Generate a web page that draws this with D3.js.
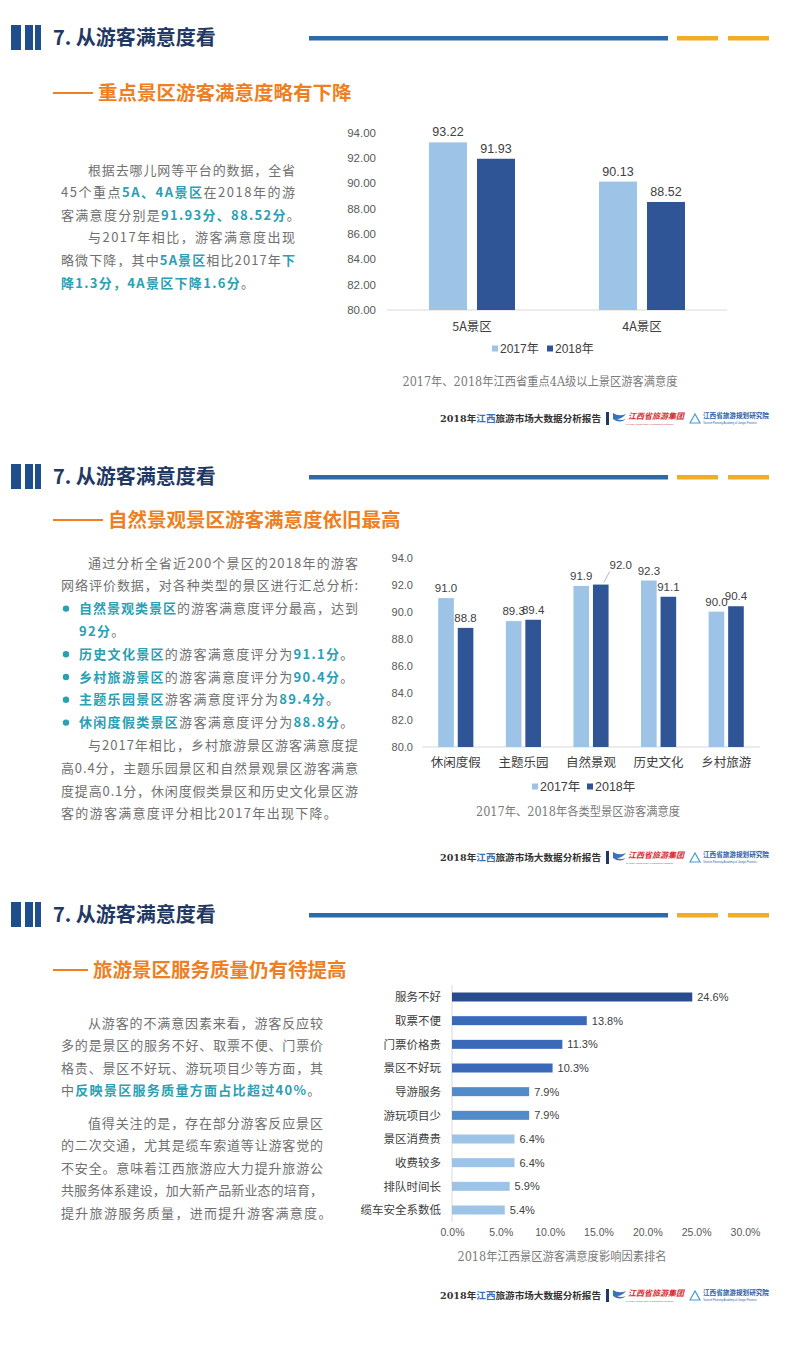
<!DOCTYPE html>
<html>
<head>
<meta charset="utf-8">
<script src="https://cdn.jsdelivr.net/npm/d3@7"></script>
<style>
  body { margin: 0; background: #fff; }
  svg { display: block; }
  text { font-family: "Liberation Sans", "Noto Sans CJK SC", sans-serif; }
</style>
</head>
<body>
<svg id="page" width="800" height="1354"></svg>
<script>
// ---- chart 1: 5A / 4A
var levels = ['5A景区', '4A景区'];
var years = ['2017年', '2018年'];
var level2017 = [93.22, 90.13];
var level2018 = [91.93, 88.52];
var levelTicks = [80, 82, 84, 86, 88, 90, 92, 94];

// ---- chart 2: scenic types
var types = ['休闲度假', '主题乐园', '自然景观', '历史文化', '乡村旅游'];
var type2017 = [91.0, 89.3, 91.9, 92.3, 90.0];
var type2018 = [88.8, 89.4, 92.0, 91.1, 90.4];
var typeTicks = [80, 82, 84, 86, 88, 90, 92, 94];

// ---- chart 3: dissatisfaction factors
var factors = ['服务不好', '取票不便', '门票价格贵', '景区不好玩', '导游服务', '游玩项目少', '景区消费贵', '收费较多', '排队时间长', '缆车安全系数低'];
var factorShare = [24.6, 13.8, 11.3, 10.3, 7.9, 7.9, 6.4, 6.4, 5.9, 5.4];
var shareTicks = [0, 5, 10, 15, 20, 25, 30];

var svg = d3.select('#page');
var light = '#9dc3e6', dark = '#2f5597';
var teal = '#2b9fb4', gray = '#707070';
var cjk = '"Noto Sans CJK SC", sans-serif';
var serif = '"DejaVu Serif", "Noto Sans CJK SC", serif';

function header(cy, subtitle, subY, subX) {
  var g = svg.append('g');
  [[11, 10], [25, 8], [35, 6]].forEach(function(b) {
    g.append('rect').attr('x', b[0]).attr('y', cy - 13).attr('width', b[1]).attr('height', 25).attr('fill', '#1f4e8c');
  });
  g.append('text').attr('x', 53).attr('y', cy + 7)
    .style('font-family', cjk).style('font-size', '20px').style('font-weight', 'bold')
    .attr('fill', '#1f3864').text('7. 从游客满意度看');
  g.append('rect').attr('x', 309).attr('y', cy - 2).attr('width', 359).attr('height', 4.5).attr('fill', '#2e6aa8');
  g.append('rect').attr('x', 677).attr('y', cy - 2).attr('width', 41).attr('height', 4.5).attr('fill', '#f2ad27');
  g.append('rect').attr('x', 728).attr('y', cy - 2).attr('width', 41).attr('height', 4.5).attr('fill', '#f2ad27');
  g.append('rect').attr('x', 53).attr('y', subY - 1).attr('width', subX - 58).attr('height', 2).attr('fill', '#ee7f22');
  g.append('text').attr('x', subX).attr('y', subY + 7)
    .style('font-family', cjk).style('font-size', '19.5px').style('font-weight', 'bold')
    .attr('fill', '#ee7f22').text(subtitle);
}

function footer(cy) {
  var g = svg.append('g');
  var t = g.append('text').attr('x', 440).attr('y', cy + 4)
    .style('font-family', serif).style('font-size', '9.6px').style('font-weight', 'bold');
  t.append('tspan').attr('fill', '#333').text('2018年');
  t.append('tspan').attr('fill', '#3a6fb5').text('江西');
  t.append('tspan').attr('fill', '#333').text('旅游市场大数据分析报告');
  g.append('rect').attr('x', 606).attr('y', cy - 6).attr('width', 3).attr('height', 13).attr('fill', '#1f3864');
  g.append('path').attr('d', 'M613,' + (cy - 5) + ' q6,4 13,1 q-4,5 -9,5 q4,2 9,0 q-6,5 -13,0 z').attr('fill', '#3a73b8');
  g.append('text').attr('x', 628).attr('y', cy + 1)
    .style('font-family', cjk).style('font-size', '8px').style('font-weight', 'bold').style('font-style', 'italic')
    .attr('fill', '#d62a2f').text('江西省旅游集团');
  g.append('text').attr('x', 626).attr('y', cy + 6.5).style('font-size', '2.5px').attr('fill', '#d62a2f')
    .text('JIANGXI PROVINCIAL TOURISM GROUP');
  g.append('path').attr('d', 'M690,' + (cy + 5) + ' l5,-9 l5,9 z').attr('fill', 'none').attr('stroke', '#4a9ad0').attr('stroke-width', 1.2);
  g.append('text').attr('x', 703).attr('y', cy)
    .style('font-family', cjk).style('font-size', '6.6px').style('font-weight', 'bold')
    .attr('fill', '#2d5ea8').text('江西省旅游规划研究院');
  g.append('text').attr('x', 703).attr('y', cy + 5.5).style('font-size', '2.6px').attr('fill', '#2d5ea8')
    .text('Tourism Planning Academy of Jiangxi Province');
}

function para(lines, x0, indentX, right, y0, step) {
  var g = svg.append('g');
  lines.forEach(function(ln, i) {
    var x = ln.indent ? indentX : (ln.bx || x0);
    var t = g.append('text').attr('x', x).attr('y', y0 + i * step)
      .style('font-family', cjk).style('font-size', '13px');
    ln.t.split(/(\{[^}]*\})/).filter(function(s) { return s; }).forEach(function(s) {
      var hi = s[0] === '{';
      t.append('tspan').attr('fill', hi ? teal : gray).style('font-weight', hi ? 'bold' : null)
        .text(hi ? s.slice(1, -1) : s);
    });
    if (ln.full) t.attr('textLength', right - x).attr('lengthAdjust', 'spacing');
    else t.style('letter-spacing', '1.3px');
    if (ln.bullet) g.append('circle').attr('cx', 66).attr('cy', y0 + i * step - 4.5).attr('r', 3.2).attr('fill', teal);
  });
}

function caption(text, cx, cy, len) {
  svg.append('text').attr('x', cx).attr('y', cy + 4).attr('text-anchor', 'middle')
    .style('font-family', serif).style('font-size', '12px').attr('fill', '#7a7a7a')
    .attr('textLength', len).attr('lengthAdjust', 'spacingAndGlyphs').text(text);
}

function legend(x, cy, fs) {
  var g = svg.append('g');
  years.forEach(function(yr, i) {
    var lx = x + i * 55;
    g.append('rect').attr('x', lx).attr('y', cy - 3.5).attr('width', 6).attr('height', 6).attr('fill', i ? dark : light);
    g.append('text').attr('x', lx + 8).attr('y', cy + 4).style('font-size', fs + 'px').attr('fill', '#404040').text(yr);
  });
}

function groupedBars(o) {
  var g = svg.append('g');
  var x0 = d3.scaleBand().domain(o.cats).range(o.xr).paddingInner(o.pad).paddingOuter(o.pad / 2);
  var x1 = d3.scaleBand().domain(years).range([0, x0.bandwidth()]).paddingInner(o.pad2);
  var y = d3.scaleLinear().domain([80, 94]).range(o.yr);
  var rows = o.cats.map(function(c, i) { return { cat: c, vals: [o.a[i], o.b[i]] }; });

  var ya = g.append('g').attr('transform', 'translate(' + o.tickX + ',0)')
    .call(d3.axisLeft(y).tickValues(o.ticks).tickFormat(d3.format(o.fmt)).tickSize(0).tickPadding(0));
  ya.select('.domain').remove();
  ya.attr('font-family', null).selectAll('text').attr('fill', '#595959').style('font-size', o.tickFs + 'px');

  g.append('line').attr('x1', o.xr[0]).attr('x2', o.xr[1]).attr('y1', y(80)).attr('y2', y(80))
    .attr('stroke', '#d9d9d9').attr('stroke-width', 1);

  var xa = g.append('g').attr('transform', 'translate(0,' + y(80) + ')')
    .call(d3.axisBottom(x0).tickSize(0).tickPadding(o.catPad));
  xa.select('.domain').remove();
  xa.attr('font-family', null).selectAll('text').attr('fill', '#404040')
    .style('font-family', cjk).style('font-size', o.catFs + 'px');

  var grp = g.selectAll('.grp').data(rows).enter().append('g').attr('class', 'grp')
    .attr('transform', function(d) { return 'translate(' + x0(d.cat) + ',0)'; });
  var bars = grp.selectAll('.bar').data(function(d) {
    return d.vals.map(function(v, i) { return { cat: d.cat, yr: years[i], v: v, i: i }; });
  }).enter();
  bars.append('rect').attr('class', 'bar')
    .attr('x', function(d) { return x1(d.yr); }).attr('width', x1.bandwidth())
    .attr('y', function(d) { return y(d.v); }).attr('height', function(d) { return y(80) - y(d.v); })
    .attr('fill', function(d) { return d.i ? dark : light; });
  bars.append('text')
    .attr('x', function(d) { return x1(d.yr) + x1.bandwidth() / 2 + (d.cat === o.leader && d.i ? 20 : 0); })
    .attr('y', function(d) { return y(d.v) - (d.cat === o.leader && d.i ? 16 : 6); })
    .attr('text-anchor', 'middle').style('font-size', o.valFs + 'px').attr('fill', '#404040')
    .text(function(d) { return d3.format(o.vfmt)(d.v); });
  // leader line for the crowded label
  bars.filter(function(d) { return d.cat === o.leader && d.i; }).append('line')
    .attr('x1', function(d) { return x1(d.yr) + x1.bandwidth() / 2 + 3; })
    .attr('x2', function(d) { return x1(d.yr) + x1.bandwidth() / 2 + 9; })
    .attr('y1', function(d) { return y(d.v) - 2; })
    .attr('y2', function(d) { return y(d.v) - 13; })
    .attr('stroke', '#a6a6a6').attr('stroke-width', 0.8);
}

// ================= panel 1
header(38, '重点景区游客满意度略有下降', 93, 98);
para([
  { t: '根据去哪儿网等平台的数据，全省', indent: true, full: true },
  { t: '45个重点{5A、4A景区}在2018年的游', full: true },
  { t: '客满意度分别是{91.93分、88.52分}。' },
  { t: '与2017年相比，游客满意度出现', indent: true, full: true },
  { t: '略微下降，其中{5A景区}相比2017年{下}', full: true },
  { t: '{降1.3分，4A景区下降1.6分}。' }
], 61, 88, 295, 174.5, 22.6);

groupedBars({
  cats: levels, a: level2017, b: level2018, ticks: levelTicks,
  xr: [387, 727], yr: [310, 132.5], pad: 0.494, pad2: 0.208,
  tickX: 376, fmt: '.2f', vfmt: '.2f', tickFs: 11.5, valFs: 12.5, catFs: 12.5, catPad: 12, leader: null
});
legend(492, 349, 12);
caption('2017年、2018年江西省重点4A级以上景区游客满意度', 540, 382, 275);
footer(418);

// ================= panel 2
header(477, '自然景观景区游客满意度依旧最高', 520, 108);
para([
  { t: '通过分析全省近200个景区的2018年的游客', indent: true, full: true },
  { t: '网络评价数据，对各种类型的景区进行汇总分析:', full: true },
  { t: '{自然景观类景区}的游客满意度评分最高，达到', bullet: true, bx: 79, full: true },
  { t: '{92分}。', bx: 79 },
  { t: '{历史文化景区}的游客满意度评分为{91.1分}。', bullet: true, bx: 79 },
  { t: '{乡村旅游景区}的游客满意度评分为{90.4分}。', bullet: true, bx: 79 },
  { t: '{主题乐园景区}游客满意度评分为{89.4分}。', bullet: true, bx: 79 },
  { t: '{休闲度假类景区}游客满意度评分为{88.8分}。', bullet: true, bx: 79 },
  { t: '与2017年相比，乡村旅游景区游客满意度提', indent: true, full: true },
  { t: '高0.4分，主题乐园景区和自然景观景区游客满意', full: true },
  { t: '度提高0.1分，休闲度假类景区和历史文化景区游', full: true },
  { t: '客的游客满意度评分相比2017年出现下降。' }
], 61, 88, 358, 567.5, 22.8);

groupedBars({
  cats: types, a: type2017, b: type2018, ticks: typeTicks,
  xr: [422, 760], yr: [747, 557.5], pad: 0.48, pad2: 0.2,
  tickX: 413, fmt: '.1f', vfmt: '.1f', tickFs: 11, valFs: 11.5, catFs: 12.5, catPad: 11, leader: '自然景观'
});
legend(532, 787, 12.5);
caption('2017年、2018年各类型景区游客满意度', 578, 812, 204);
footer(857);

// ================= panel 3
header(915, '旅游景区服务质量仍有待提高', 970, 93);
para([
  { t: '从游客的不满意因素来看，游客反应较', indent: true, full: true },
  { t: '多的是景区的服务不好、取票不便、门票价', full: true },
  { t: '格贵、景区不好玩、游玩项目少等方面，其', full: true },
  { t: '中{反映景区服务质量方面占比超过40%}。' }
], 61, 88, 323, 1027.5, 22.5);
para([
  { t: '值得关注的是，存在部分游客反应景区', indent: true, full: true },
  { t: '的二次交通，尤其是缆车索道等让游客觉的', full: true },
  { t: '不安全。意味着江西旅游应大力提升旅游公', full: true },
  { t: '共服务体系建设，加大新产品新业态的培育，', full: true },
  { t: '提升旅游服务质量，进而提升游客满意度。' }
], 61, 88, 323, 1127.5, 22.5);

(function() {
  var g = svg.append('g');
  var x = d3.scaleLinear().domain([0, 30]).range([452, 745]);
  var y = d3.scalePoint().domain(factors).range([997, 1210]);
  var tier = function(i) { return i === 0 ? '#2a4b8d' : i < 4 ? '#3a69b8' : i < 6 ? '#528bc9' : '#9dc3e6'; };
  var rows = factors.map(function(f, i) { return { f: f, v: factorShare[i], i: i }; });

  g.append('line').attr('x1', x(0)).attr('x2', x(0)).attr('y1', 985).attr('y2', 1222)
    .attr('stroke', '#d9d9d9').attr('stroke-width', 1);

  var xa = g.append('g').attr('transform', 'translate(0,1229)')
    .call(d3.axisBottom(x).tickValues(shareTicks).tickFormat(function(d) { return d3.format('.1f')(d) + '%'; }).tickSize(0).tickPadding(0));
  xa.select('.domain').remove();
  xa.attr('font-family', null).selectAll('text').attr('fill', '#595959').style('font-size', '10.5px');

  var ya = g.append('g').attr('transform', 'translate(441,0)')
    .call(d3.axisLeft(y).tickSize(0).tickPadding(0));
  ya.select('.domain').remove();
  ya.attr('font-family', null).selectAll('text').attr('fill', '#404040')
    .style('font-family', cjk).style('font-size', '11.5px');

  g.selectAll('.hbar').data(rows).enter().append('rect').attr('class', 'hbar')
    .attr('x', x(0)).attr('y', function(d) { return y(d.f) - 4.5; })
    .attr('width', function(d) { return x(d.v) - x(0); }).attr('height', 9)
    .attr('fill', function(d) { return tier(d.i); });
  g.selectAll('.hval').data(rows).enter().append('text').attr('class', 'hval')
    .attr('x', function(d) { return x(d.v) + 5; }).attr('y', function(d) { return y(d.f) + 4; })
    .style('font-size', '11px').attr('fill', '#404040')
    .text(function(d) { return d3.format('.1f')(d.v) + '%'; });
})();
caption('2018年江西景区游客满意度影响因素排名', 562, 1257, 209);
footer(1295);
</script>
</body>
</html>
